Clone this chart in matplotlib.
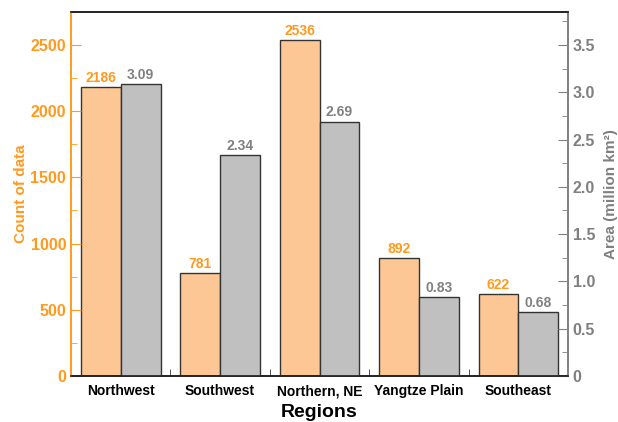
import numpy as np
import matplotlib.pyplot as plt
from matplotlib.ticker import MultipleLocator, FixedLocator

# Values
regions = ["Northwest", "Southwest", "Northern, NE", "Yangtze Plain", "Southeast"]
data_count = [2186, 781, 2536, 892, 622]
area_million_km2 = [3.09, 2.34, 2.69, 0.83, 0.68]

ORANGE = "#FF9A1E"
ORANGE_FILL = "#FDC795"
GRAY = "#808080"
GRAY_FILL = "#C0C0C0"
BAR_WIDTH = 0.4

plt.rcParams["font.family"] = ["Liberation Sans", "DejaVu Sans"]
plt.rcParams["font.weight"] = "bold"

fig = plt.figure(figsize=(6.18, 4.22), dpi=100)
ax = fig.add_axes([0.115, 0.109, 0.804, 0.863])
ax2 = ax.twinx()

x = np.arange(len(regions))

# Count of data (left axis)
bars_count = ax.bar(x - BAR_WIDTH / 2, data_count, BAR_WIDTH,
                    color=ORANGE_FILL, edgecolor="#333333", linewidth=1.0)
for bar, value in zip(bars_count, data_count):
    ax.text(bar.get_x() + bar.get_width() / 2, value + 15, str(value),
            ha="center", va="bottom", color=ORANGE, fontsize=10, fontweight="bold")

# Area (right axis)
bars_area = ax2.bar(x + BAR_WIDTH / 2, area_million_km2, BAR_WIDTH,
                    color=GRAY_FILL, edgecolor="#333333", linewidth=1.0)
for bar, value in zip(bars_area, area_million_km2):
    ax2.text(bar.get_x() + bar.get_width() / 2, value + 0.022, f"{value:.2f}",
             ha="center", va="bottom", color=GRAY, fontsize=10, fontweight="bold")

ax.set_xlim(-0.5, len(regions) - 0.5)
ax.set_ylim(0, 2750)
ax2.set_ylim(0, 2750 / 2500 * 3.5)

ax.set_xticks(x)
ax.set_xticklabels(regions, fontsize=10, fontweight="bold")
ax.xaxis.set_minor_locator(FixedLocator(x[:-1] + 0.5))
ax.tick_params(axis="x", which="major", length=0, pad=6)
ax.tick_params(axis="x", which="minor", direction="in", length=5, color="#333333")

ax.yaxis.set_major_locator(MultipleLocator(500))
ax.yaxis.set_minor_locator(MultipleLocator(250))
ax.tick_params(axis="y", which="both", direction="in", colors=ORANGE, labelsize=11.5)
ax.tick_params(axis="y", which="major", length=7)
ax.tick_params(axis="y", which="minor", length=4)

ax2.set_yticks([0, 0.5, 1.0, 1.5, 2.0, 2.5, 3.0, 3.5])
ax2.set_yticklabels(["0", "0.5", "1.0", "1.5", "2.0", "2.5", "3.0", "3.5"])
ax2.yaxis.set_minor_locator(MultipleLocator(0.25))
ax2.tick_params(axis="y", which="both", direction="in", colors=GRAY, labelsize=11.5)
ax2.tick_params(axis="y", which="major", length=7)
ax2.tick_params(axis="y", which="minor", length=4)

for label in ax.get_yticklabels() + ax2.get_yticklabels():
    label.set_fontweight("bold")

ax.set_ylabel("Count of data", color=ORANGE, fontsize=11, fontweight="bold", labelpad=2)
ax2.set_ylabel("Area (million km²)", color=GRAY, fontsize=11,
               fontweight="bold", labelpad=6)
ax.set_xlabel("Regions", fontsize=14, fontweight="bold", labelpad=4)

for axis in (ax, ax2):
    axis.spines["left"].set_color(ORANGE)
    axis.spines["right"].set_color(GRAY)
    axis.spines["top"].set_color("#222222")
    axis.spines["bottom"].set_color("#222222")
    for spine in axis.spines.values():
        spine.set_linewidth(1.2)

fig.savefig("out.png", dpi=100)
